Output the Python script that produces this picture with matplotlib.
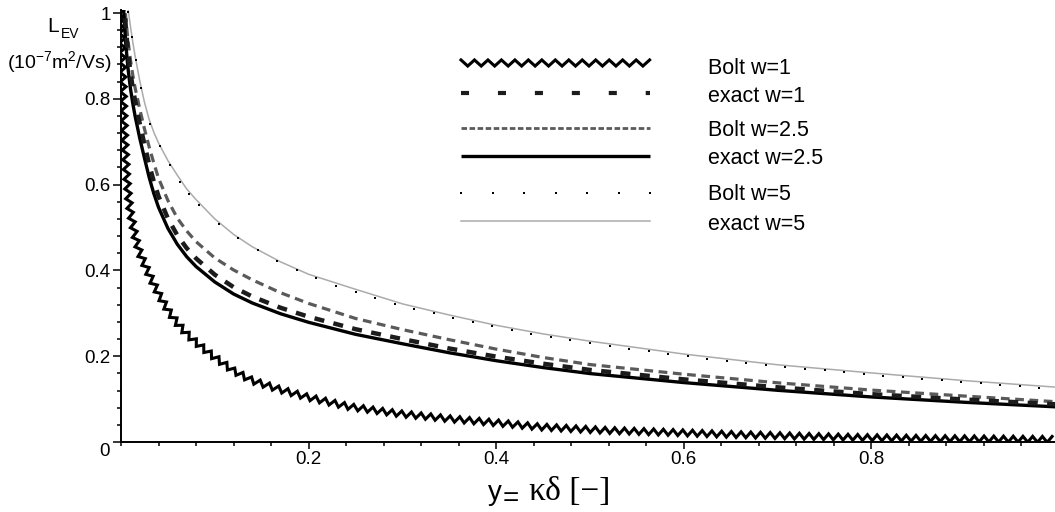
import numpy as np
import matplotlib
matplotlib.use("Agg")
import matplotlib.pyplot as plt
from matplotlib.lines import Line2D
from matplotlib.path import Path
from matplotlib.patheffects import AbstractPathEffect
from matplotlib.ticker import MultipleLocator, FixedLocator, FixedFormatter
from matplotlib.transforms import Affine2D, IdentityTransform

plt.rcParams["font.family"] = ["Liberation Sans", "DejaVu Sans"]
plt.rcParams["mathtext.fontset"] = "custom"
plt.rcParams["mathtext.rm"] = "Liberation Sans"
plt.rcParams["mathtext.it"] = "Liberation Sans:italic"
plt.rcParams["lines.scale_dashes"] = False

# ---- data: L_EV (10^-7 m^2/Vs) versus y = kappa*delta ----
x_curves = [0.002, 0.003, 0.005, 0.0075, 0.01, 0.0125, 0.015, 0.02, 0.025, 0.03,
            0.035, 0.04, 0.05, 0.06, 0.07, 0.08, 0.1, 0.12, 0.14, 0.17, 0.2,
            0.25, 0.3, 0.35, 0.4, 0.45, 0.5, 0.6, 0.7, 0.8, 0.9, 0.996]

exact_w1 = [1.12, 1.05, 0.97, 0.91, 0.862, 0.826, 0.796, 0.742, 0.694, 0.647,
            0.607, 0.573, 0.521, 0.482, 0.452, 0.428, 0.39, 0.361, 0.339, 0.313, 0.292,
            0.263, 0.24, 0.218, 0.199, 0.1825, 0.168, 0.146, 0.1275, 0.1115, 0.099, 0.088]

bolt_w25 = [1.11, 1.06, 0.99, 0.935, 0.892, 0.856, 0.826, 0.776, 0.730, 0.688,
            0.650, 0.615, 0.563, 0.522, 0.492, 0.467, 0.429, 0.401, 0.378, 0.348, 0.323,
            0.288, 0.262, 0.2385, 0.2165, 0.197, 0.1805, 0.158, 0.138, 0.121, 0.107, 0.094]

exact_w25 = [1.06, 1.0, 0.93, 0.87, 0.825, 0.79, 0.76, 0.708, 0.662, 0.617,
             0.579, 0.547, 0.498, 0.461, 0.432, 0.409, 0.373, 0.345, 0.324, 0.299, 0.279,
             0.251, 0.229, 0.208, 0.1895, 0.1735, 0.1595, 0.1385, 0.1205, 0.105, 0.0925, 0.082]

exact_w5 = [1.25, 1.17, 1.08, 1.01, 0.97, 0.933, 0.90, 0.842, 0.792, 0.752,
            0.722, 0.697, 0.656, 0.622, 0.59, 0.565, 0.52, 0.484, 0.455, 0.42, 0.391,
            0.356, 0.322, 0.296, 0.272, 0.252, 0.235, 0.205, 0.18, 0.161, 0.143, 0.128]

x_bolt_w1 = [0.0005, 0.001, 0.0015, 0.0025, 0.004, 0.006, 0.008, 0.01, 0.015, 0.02,
             0.03, 0.04, 0.05, 0.06, 0.07, 0.08, 0.097, 0.12, 0.14, 0.17, 0.2,
             0.244, 0.297, 0.351, 0.404, 0.447, 0.518, 0.591, 0.66, 0.7345, 0.8,
             0.87, 0.93, 0.996]
bolt_w1 = [1.1, 1.0, 0.91, 0.8, 0.7, 0.62, 0.57, 0.535, 0.48, 0.44,
           0.39, 0.345, 0.307, 0.277, 0.252, 0.232, 0.202, 0.166, 0.143, 0.122, 0.104,
           0.082, 0.066, 0.054, 0.044, 0.035, 0.027, 0.022, 0.017, 0.013, 0.010,
           0.008, 0.007, 0.006]

# sample points of the Bolt w=5 solution (plotted as dots)
x_bolt_w5 = [0.0078, 0.0117, 0.0156, 0.0208, 0.0313, 0.0417, 0.0521, 0.0625, 0.0729,
             0.0833, 0.1042, 0.1250, 0.1458, 0.1667, 0.1875, 0.2083, 0.2292, 0.2500,
             0.2708, 0.2917, 0.3125, 0.3333, 0.3542, 0.3750, 0.3958, 0.4167, 0.4375,
             0.4583, 0.4792, 0.5000, 0.5208, 0.5417, 0.5625, 0.5833, 0.6042, 0.6250,
             0.6458, 0.6667, 0.6875, 0.7083, 0.7292, 0.7500, 0.7708, 0.7917, 0.8125,
             0.8333, 0.8542, 0.8750, 0.8958, 0.9167, 0.9375, 0.9583, 0.9792]
bolt_w5 = [1.003, 0.945, 0.890, 0.826, 0.741, 0.690, 0.646, 0.607, 0.578,
           0.552, 0.508, 0.475, 0.447, 0.423, 0.401, 0.382, 0.364, 0.349,
           0.335, 0.322, 0.311, 0.300, 0.290, 0.280, 0.270, 0.261, 0.252,
           0.245, 0.238, 0.231, 0.224, 0.2175, 0.211, 0.205, 0.1995, 0.194,
           0.189, 0.184, 0.1795, 0.175, 0.171, 0.167, 0.163, 0.159, 0.155,
           0.151, 0.147, 0.1435, 0.140, 0.1365, 0.133, 0.1298, 0.1266]

labels = ["Bolt w=1", "exact w=1", "Bolt w=2.5", "exact w=2.5", "Bolt w=5", "exact w=5"]
x_ticks = [0.2, 0.4, 0.6, 0.8]
x_tick_labels = ["0.2", "0.4", "0.6", "0.8"]
y_ticks = [0.0, 0.2, 0.4, 0.6, 0.8, 1.0]
y_tick_labels = ["", "0.2", "0.4", "0.6", "0.8", "1"]


class Zigzag(AbstractPathEffect):
    """Stroke a path as a sawtooth running along it (period/amplitude in points)."""

    def __init__(self, period=7.0, amplitude=2.0):
        super().__init__()
        self.period = period
        self.amplitude = amplitude

    def draw_path(self, renderer, gc, tpath, affine, rgbFace=None):
        verts = affine.transform(tpath.vertices)
        verts = verts[np.isfinite(verts).all(axis=1)]
        if len(verts) < 2:
            return
        d = np.hypot(*np.diff(verts, axis=0).T)
        verts = verts[np.concatenate([[True], d > 1e-9])]
        seg = np.diff(verts, axis=0)
        d = np.hypot(seg[:, 0], seg[:, 1])
        if len(d) == 0:
            return
        s = np.concatenate([[0.0], np.cumsum(d)])
        step = renderer.points_to_pixels(self.period) / 2.0
        amp = renderer.points_to_pixels(self.amplitude)
        si = np.arange(0.0, s[-1], step)
        px = np.interp(si, s, verts[:, 0])
        py = np.interp(si, s, verts[:, 1])
        idx = np.clip(np.searchsorted(s, si, side="right") - 1, 0, len(d) - 1)
        tx = seg[idx, 0] / d[idx]
        ty = seg[idx, 1] / d[idx]
        sign = np.where(np.arange(len(si)) % 2 == 0, 1.0, -1.0)
        out = np.column_stack([px - ty * amp * sign, py + tx * amp * sign])
        renderer.draw_path(gc, Path(out), IdentityTransform(), rgbFace)


W, H = 1055, 512
fig = plt.figure(figsize=(W / 100, H / 100), dpi=100)
ax = fig.add_axes([121 / W, (H - 442) / H, 934 / W, 432 / H])
ax.set_xlim(0, 934 / 938)
ax.set_ylim(0, 432 / 429)

# per-series styles
style_bolt_w1 = dict(color="black", lw=2.2, solid_joinstyle="miter")
style_exact_w1 = dict(color="#1c1c1c", lw=3.2, dashes=(7.2, 6.8), dash_capstyle="butt")
style_bolt_w25 = dict(color="#5a5a5a", lw=2.3, dashes=(6.3, 4.0), dash_capstyle="butt")
style_exact_w25 = dict(color="black", lw=2.4, solid_capstyle="butt")
style_exact_w5 = dict(color="#ababab", lw=1.1)
style_bolt_w5 = dict(color="black", ls="none", marker="s", ms=1.7, mew=0)

ax.plot(x_bolt_w1, bolt_w1, path_effects=[Zigzag(period=7.0, amplitude=2.1)],
        **style_bolt_w1)
ax.plot(x_curves, exact_w5, **style_exact_w5)
ax.plot(x_curves, bolt_w25, **style_bolt_w25)
ax.plot(x_curves, exact_w25, **style_exact_w25)
ax.plot(x_curves, exact_w1, **style_exact_w1)
ax.plot(x_bolt_w5, bolt_w5, **style_bolt_w5)

# axes through the origin, left and bottom only
for side in ("top", "right"):
    ax.spines[side].set_visible(False)
for side in ("left", "bottom"):
    ax.spines[side].set_linewidth(1.4)
    ax.spines[side].set_color("black")

ax.xaxis.set_major_locator(FixedLocator(x_ticks))
ax.xaxis.set_major_formatter(FixedFormatter(x_tick_labels))
ax.xaxis.set_minor_locator(MultipleLocator(0.04))
ax.yaxis.set_major_locator(FixedLocator(y_ticks))
ax.yaxis.set_major_formatter(FixedFormatter(y_tick_labels))
ax.yaxis.set_minor_locator(MultipleLocator(0.04))
ax.tick_params(axis="x", which="major", direction="out", length=5, width=1.1,
               pad=1.5, labelsize=13.5)
ax.tick_params(axis="x", which="minor", direction="out", length=3, width=1.1)
ax.tick_params(axis="y", which="major", direction="out", length=6, width=1.1,
               pad=1.5, labelsize=13.5)
ax.tick_params(axis="y", which="minor", direction="out", length=3, width=1.1)

# pixel coordinates (origin top-left) for annotations
pix = Affine2D().scale(1 / W, -1 / H).translate(0, 1) + fig.transFigure

fig.text(105, 451.5, "0", transform=pix, fontsize=13.5, ha="center", va="center")

# axis titles
fig.text(47, 32, "L", transform=pix, fontsize=15, ha="left", va="baseline")
fig.text(60.5, 38, "EV", transform=pix, fontsize=10, ha="left", va="baseline")
fig.text(59.5, 68, r"(10$^{\mathregular{-7}}$m$^{\mathregular{2}}$/Vs)", transform=pix,
         fontsize=14, ha="center", va="baseline")
fig.text(488, 500, "y", transform=pix, fontsize=20, ha="left", va="baseline")
fig.text(503, 506, "=", transform=pix, fontsize=20, ha="left", va="baseline")
fig.text(529, 500, "κδ [−]", transform=pix, fontsize=24, ha="left", va="baseline",
         family=["Liberation Serif", "DejaVu Serif"])

# legend
row_y = [63, 93, 128, 156, 193, 221]
text_base = [74.5, 102.5, 135.5, 164.5, 200.5, 229.5]
x0, x1 = 461, 650
legend_styles = [
    dict(path_effects=[Zigzag(period=9.7, amplitude=2.2)], **style_bolt_w1),
    dict(color="#1c1c1c", lw=3.0, dashes=(5.8, 20.8), dash_capstyle="butt"),
    dict(color="#5a5a5a", lw=2.0, dashes=(4.0, 1.8), dash_capstyle="butt"),
    dict(style_exact_w25),
    None,
    dict(style_exact_w5),
]
for yy, yb, lab, st in zip(row_y, text_base, labels, legend_styles):
    if st is None:
        fig.add_artist(Line2D(np.linspace(x0, x1, 7), [yy] * 7, transform=pix,
                              **style_bolt_w5))
    else:
        fig.add_artist(Line2D([x0, x1], [yy, yy], transform=pix, **st))
    fig.text(708, yb, lab, transform=pix, fontsize=15.5, ha="left", va="baseline")

fig.savefig("out.png", dpi=100)
